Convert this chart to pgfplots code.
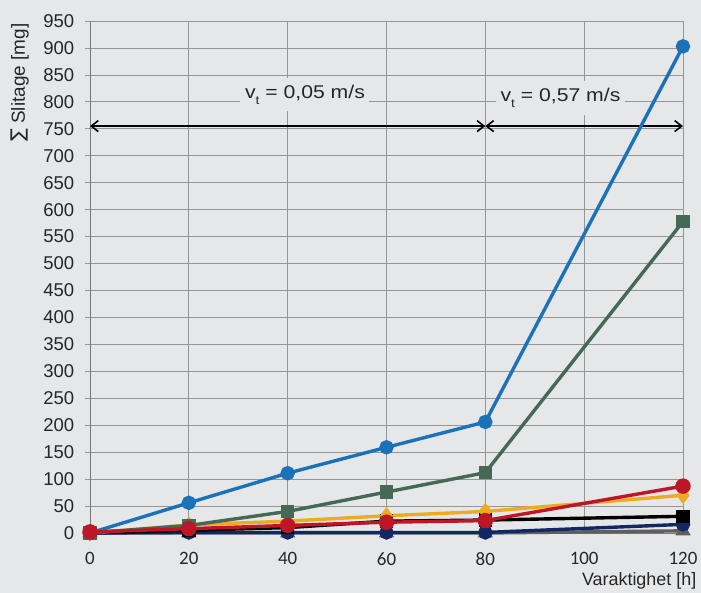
\documentclass[border=0pt]{standalone}
\usepackage{pgfplots}
\pgfplotsset{compat=1.18}
\usepackage{fontspec}
\setmainfont{Liberation Sans}
\newfontfamily\calibri{Carlito}
\newfontfamily\dejavu{DejaVu Sans}
\usetikzlibrary{arrows.meta}
\definecolor{bg}{RGB}{230,231,233}
\definecolor{gridc}{RGB}{150,150,150}
\definecolor{cblue}{RGB}{28,114,184}
\definecolor{cgreen}{RGB}{70,105,85}
\definecolor{cyellow}{RGB}{238,170,32}
\definecolor{cred}{RGB}{190,22,38}
\definecolor{cnavy}{RGB}{18,40,100}
\definecolor{cgray}{RGB}{95,95,95}
\begin{document}
\begin{tikzpicture}
\fill[bg] (-90bp,-60bp) rectangle (611bp,533bp);
\begin{axis}[
  scale only axis,
  width=593bp, height=512bp,
  xmin=0, xmax=120, ymin=0, ymax=950,
  xtick={0,20,...,120},
  ytick={0,50,...,950},
  grid=major,
  grid style={gridc, line width=0.8bp},
  axis line style={gridc!80!black, line width=0.8bp},
  axis x line*=bottom, axis y line*=left,
  tick align=outside,
  major tick length=5bp,
  xtick style={draw=none},
  ytick style={gridc, line width=0.8bp},
  /pgf/number format/assume math mode=true,
  /pgf/number format/1000 sep={},
  yticklabel style={font=\fontsize{18.6}{21}\selectfont, anchor=east, inner sep=0pt, xshift=-9bp, text=black!85},
  xticklabel style={font=\calibri\fontsize{19}{21}\selectfont, anchor=north, inner sep=0pt, yshift=-13bp, text=black!85},
  clip=false,
  line width=3.4bp,
  every mark/.append style={line width=0.6bp, solid},
]
\draw[black, line width=1.6bp, {Straight Barb[length=7bp,width=11bp]}-{Straight Barb[length=7bp,width=11bp]}] (axis cs:0,755) -- (axis cs:80,755);
\draw[black, line width=1.6bp, {Straight Barb[length=7bp,width=11bp]}-{Straight Barb[length=7bp,width=11bp]}] (axis cs:80,755) -- (axis cs:120,755);
\node[fill=bg, inner xsep=4bp, inner ysep=7bp, xscale=1.15, font=\fontsize{18.5}{20}\selectfont, text=black!85] at (axis cs:43.5,813) {v\raisebox{-0.6ex}{\fontsize{12}{13}\selectfont t} = 0,05 m/s};
\node[fill=bg, inner xsep=4bp, inner ysep=7bp, xscale=1.15, font=\fontsize{18.5}{20}\selectfont, text=black!85] at (axis cs:95.2,807) {v\raisebox{-0.6ex}{\fontsize{12}{13}\selectfont t} = 0,57 m/s};
\node[rotate=90, anchor=east, inner sep=0pt, font=\fontsize{19}{21}\selectfont, text=black!85] at ([xshift=-70bp,yshift=-1bp]rel axis cs:0,1) {{\dejavu ∑} Slitage [mg]};
\node[anchor=south east, inner sep=0pt, font=\fontsize{18}{20}\selectfont, text=black!85] at ([xshift=608bp,yshift=-58bp]rel axis cs:0,0) {Varaktighet [h]};
% gray triangle
\addplot[cgray, mark=triangle*, mark size=5.5bp] coordinates {(0,0) (20,0) (40,0) (60,0) (80,0) (120,4)};
% navy circle
\addplot[cnavy, mark=*, mark size=5.5bp] coordinates {(0,0) (20,1) (40,1) (60,1) (80,1) (120,16)};
% black square
\addplot[black, mark=square*, mark size=5bp] coordinates {(0,0) (20,5) (40,10) (60,22) (80,24) (120,31)};
% yellow diamond
\addplot[cyellow, mark=diamond*, mark size=6bp] coordinates {(0,0) (20,15) (40,22) (60,32) (80,40) (120,70)};
% green square
\addplot[cgreen, mark=square*, mark size=5bp] coordinates {(0,0) (20,14) (40,40) (60,76) (80,112) (120,578)};
% blue circle
\addplot[cblue, mark=*, mark size=5.5bp] coordinates {(0,0) (20,56) (40,111) (60,159) (80,206) (120,903)};
% red circle
\addplot[cred, mark=*, mark size=6bp] coordinates {(0,2) (20,8) (40,14) (60,20) (80,23) (120,87)};
\end{axis}
\pgfresetboundingbox
\path[use as bounding box] (-90bp,-60bp) rectangle (611bp,533bp);
\end{tikzpicture}
\end{document}
